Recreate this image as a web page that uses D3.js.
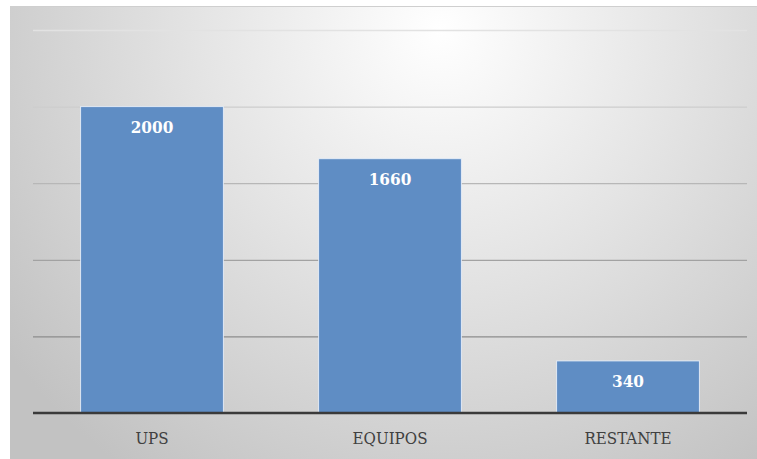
<!DOCTYPE html>
<html>
<head>
<meta charset="utf-8">
<script src="https://cdn.jsdelivr.net/npm/d3@7"></script>
<style>
  html, body { margin: 0; padding: 0; background: #ffffff; }
  svg { display: block; }
  .lbl { font-family: "DejaVu Serif Condensed", "DejaVu Serif", serif; font-stretch: condensed; }
</style>
</head>
<body>
<svg id="chart" width="757" height="459"></svg>
<script>
// Data
const categories = ["UPS", "EQUIPOS", "RESTANTE"];
const values = [2000, 1660, 340];
const yTicks = [0, 500, 1000, 1500, 2000, 2500];

const W = 757, H = 459;
const svg = d3.select("#chart");
const defs = svg.append("defs");

// Background: soft radial light from upper middle
const bg = defs.append("radialGradient")
  .attr("id", "bgGrad")
  .attr("gradientUnits", "userSpaceOnUse")
  .attr("cx", 440).attr("cy", 30).attr("r", 540)
  .attr("fx", 440).attr("fy", 30);
bg.append("stop").attr("offset", "0%").attr("stop-color", "#ffffff");
bg.append("stop").attr("offset", "45%").attr("stop-color", "#e4e4e4");
bg.append("stop").attr("offset", "100%").attr("stop-color", "#c2c2c2");

const area = { x0: 10, y0: 6, x1: 757, y1: 459 };
svg.append("rect")
  .attr("x", area.x0).attr("y", area.y0)
  .attr("width", area.x1 - area.x0).attr("height", area.y1 - area.y0)
  .attr("fill", "url(#bgGrad)");
svg.append("line")
  .attr("x1", area.x0).attr("x2", area.x1)
  .attr("y1", area.y0 + 0.5).attr("y2", area.y0 + 0.5)
  .attr("stroke", "#cfcfcf").attr("stroke-width", 1);

const plot = { left: 33, right: 747, top: 30, bottom: 413 };

const x = d3.scaleBand()
  .domain(categories)
  .range([plot.left, plot.right])
  .paddingInner(0.4)
  .paddingOuter(0.2);

const y = d3.scaleLinear()
  .domain([0, 2500])
  .range([plot.bottom, plot.top]);

// Gridlines get darker toward the baseline
const gridColor = d3.scaleLinear()
  .domain([2500, 500])
  .range(["#e2e2e2", "#8c8c8c"]);

const gridAxis = d3.axisLeft(y)
  .tickValues(yTicks.filter(d => d > 0))
  .tickSize(-(plot.right - plot.left))
  .tickFormat("");
const grid = svg.append("g")
  .attr("transform", `translate(${plot.left},0)`)
  .call(gridAxis);
grid.select(".domain").remove();
grid.selectAll(".tick line")
  .attr("stroke", d => gridColor(d))
  .attr("stroke-width", 1.3);

// Bars
svg.append("g").selectAll("rect")
  .data(values)
  .join("rect")
  .attr("x", (d, i) => x(categories[i]))
  .attr("y", d => y(d))
  .attr("width", x.bandwidth())
  .attr("height", d => y(0) - y(d))
  .attr("fill", "#5f8dc4")
  .attr("stroke", "rgba(235,242,252,0.85)")
  .attr("stroke-width", 1);

// Value labels inside the bar tops
svg.append("g").selectAll("text")
  .data(values)
  .join("text")
  .attr("class", "lbl")
  .attr("x", (d, i) => x(categories[i]) + x.bandwidth() / 2)
  .attr("y", d => y(d) + 26)
  .attr("text-anchor", "middle")
  .style("font-weight", "bold")
  .style("font-size", "17px")
  .attr("fill", "#ffffff")
  .text(d => d);

// Category axis
const xAxis = svg.append("g")
  .attr("transform", `translate(0,${plot.bottom})`)
  .call(d3.axisBottom(x).tickSize(0).tickPadding(19));
xAxis.attr("font-family", null);
xAxis.select(".domain")
  .attr("stroke", "#3a3a3a")
  .attr("stroke-width", 2.4)
  .attr("d", `M${plot.left},0H${plot.right}`);
xAxis.selectAll(".tick text")
  .attr("class", "lbl")
  .style("font-size", "16.8px")
  .attr("fill", "#404040");
</script>
</body>
</html>
